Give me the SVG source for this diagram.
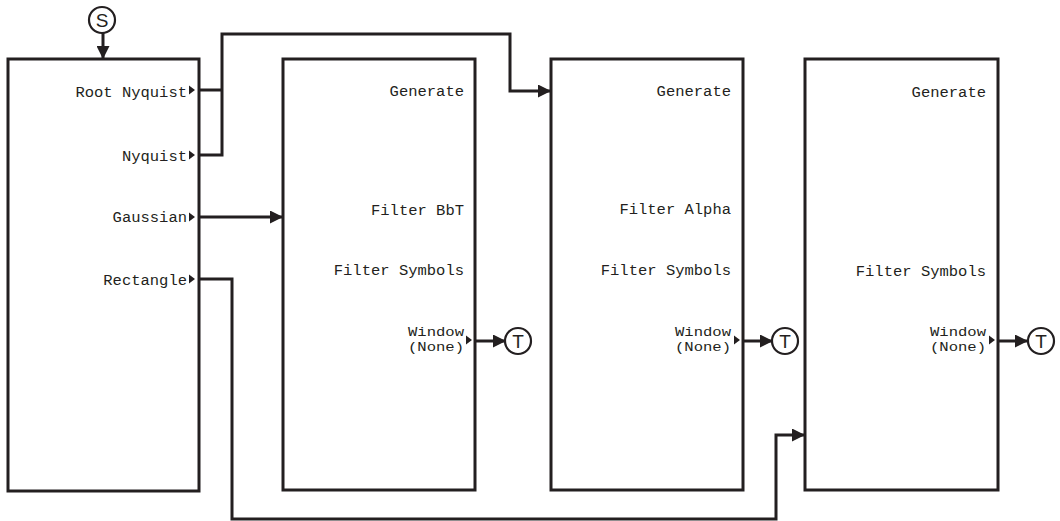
<svg xmlns="http://www.w3.org/2000/svg" width="1060" height="521" viewBox="0 0 1060 521">
<style>
.box{fill:#fff;stroke:#231f20;stroke-width:3}
.ln{fill:none;stroke:#231f20;stroke-width:3}
.t{font-family:"Liberation Mono","DejaVu Sans Mono",monospace;font-size:15.5px;fill:#231f20;text-anchor:end}
.w{font-size:13.5px}
.c{fill:#fff;stroke:#231f20;stroke-width:2.2}
.ct{font-family:"Liberation Sans","DejaVu Sans",sans-serif;font-size:19px;fill:#231f20;text-anchor:middle}
</style>
<defs>
<marker id="ah" markerWidth="13" markerHeight="13" refX="12" refY="6.5" orient="auto" markerUnits="userSpaceOnUse" viewBox="0 0 13 13">
<path d="M0,0 L13,6.5 L0,13 z" fill="#231f20"/>
</marker>
<path id="port" d="M0,-4.5 L6,0 L0,4.5 z" fill="#231f20"/>
</defs>
<g id="connectors">
<path class="ln" d="M103,33 V58" marker-end="url(#ah)" stroke-width="2.5"/>
<path class="ln" d="M199,90 H222"/>
<path class="ln" d="M199,155 H222 V34 H510 V91 H550" marker-end="url(#ah)"/>
<path class="ln" d="M199,217 H282" marker-end="url(#ah)"/>
<path class="ln" d="M199,279 H232 V519 H776 V435 H804" marker-end="url(#ah)"/>
<path class="ln" d="M475,341 H505" marker-end="url(#ah)"/>
<path class="ln" d="M743,341 H772" marker-end="url(#ah)"/>
<path class="ln" d="M998,341 H1027" marker-end="url(#ah)"/>
</g>
<g id="start">
<circle class="c" cx="102" cy="20" r="13"/>
<text class="ct" x="102" y="27">S</text>
</g>
<g id="node1">
<rect class="box" x="8" y="59" width="191" height="432"/>
<text class="t" x="187" y="97">Root Nyquist</text>
<use href="#port" x="189" y="90"/>
<text class="t" x="187" y="161">Nyquist</text>
<use href="#port" x="189" y="155"/>
<text class="t" x="187" y="222">Gaussian</text>
<use href="#port" x="189" y="217"/>
<text class="t" x="187" y="285">Rectangle</text>
<use href="#port" x="189" y="279"/>
</g>
<g id="node2">
<rect class="box" x="283" y="59" width="192" height="431"/>
<text class="t" x="464" y="96">Generate</text>
<text class="t" x="464" y="215">Filter BbT</text>
<text class="t" x="464" y="275">Filter Symbols</text>
<text class="t w" x="464" y="336" textLength="56" lengthAdjust="spacingAndGlyphs">Window</text>
<text class="t w" x="464" y="351" textLength="56" lengthAdjust="spacingAndGlyphs">(None)</text>
<use href="#port" x="466" y="340"/>
</g>
<g id="node3">
<rect class="box" x="551" y="59" width="192" height="431"/>
<text class="t" x="731" y="96">Generate</text>
<text class="t" x="731" y="214">Filter Alpha</text>
<text class="t" x="731" y="275">Filter Symbols</text>
<text class="t w" x="731" y="336" textLength="56" lengthAdjust="spacingAndGlyphs">Window</text>
<text class="t w" x="731" y="351" textLength="56" lengthAdjust="spacingAndGlyphs">(None)</text>
<use href="#port" x="734" y="340"/>
</g>
<g id="node4">
<rect class="box" x="805" y="59" width="193" height="431"/>
<text class="t" x="986" y="97">Generate</text>
<text class="t" x="986" y="276">Filter Symbols</text>
<text class="t w" x="986" y="336" textLength="56" lengthAdjust="spacingAndGlyphs">Window</text>
<text class="t w" x="986" y="351" textLength="56" lengthAdjust="spacingAndGlyphs">(None)</text>
<use href="#port" x="989" y="340"/>
</g>
<g id="term1">
<circle class="c" cx="518" cy="341" r="13"/>
<text class="ct" x="518" y="348">T</text>
</g>
<g id="term2">
<circle class="c" cx="785" cy="341" r="13"/>
<text class="ct" x="785" y="348">T</text>
</g>
<g id="term3">
<circle class="c" cx="1041" cy="341" r="13"/>
<text class="ct" x="1041" y="348">T</text>
</g>
</svg>
